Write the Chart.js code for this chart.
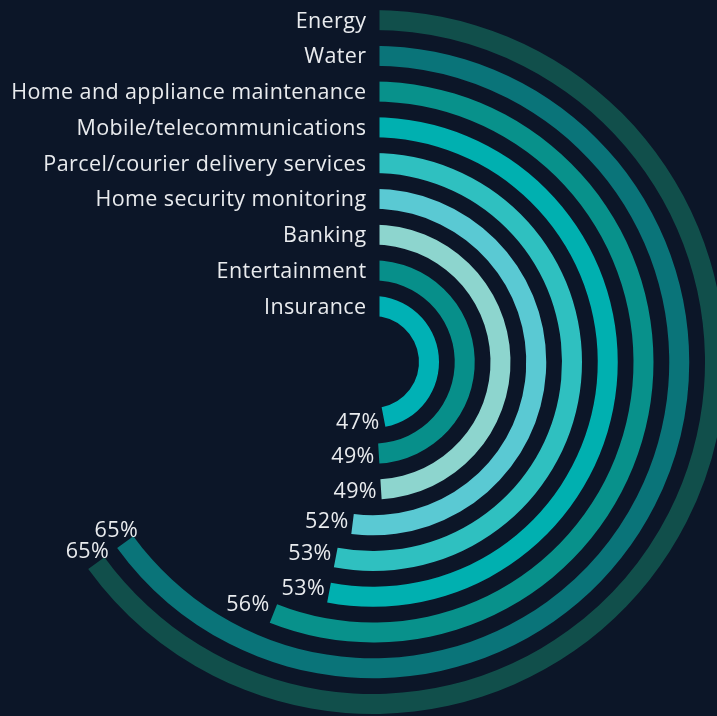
<!DOCTYPE html>
<html lang="en">
<head>
<meta charset="UTF-8">
<title>Radial bar chart</title>
<script src="https://cdn.jsdelivr.net/npm/chart.js"></script>
<style>
    html, body {
        margin: 0;
        padding: 0;
        background: #0c1628;
        overflow: hidden;
    }
    #wrap {
        width: 717px;
        height: 716px;
    }
</style>
</head>
<body>
<div id="wrap"><canvas id="chart" width="717" height="716"></canvas></div>
<script>
    // outer ring first
    const categories = [
        'Energy',
        'Water',
        'Home and appliance maintenance',
        'Mobile/telecommunications',
        'Parcel/courier delivery services',
        'Home security monitoring',
        'Banking',
        'Entertainment',
        'Insurance'
    ];
    const values = [65, 65, 56, 53, 53, 52, 49, 49, 47];
    const fullScale = 100;
    const colors = ['#114f4b', '#0a7479', '#08918b', '#00b0b0', '#2fc0c0', '#5ac9d3', '#8dd5ce', '#078f8a', '#00b1b5'];

    const RING = 20, GAP = 15.75;
    const START_SHIFT = 6.5;   // rings are cut by a vertical line just right of the centre
    const FONT = '21.5px "Open Sans", "Noto Sans", sans-serif';
    const TEXT = '#e9ebee';
    const CAP = 15;

    const datasets = [];
    categories.forEach((name, i) => {
        if (i > 0) {
            datasets.push({ data: [fullScale], backgroundColor: ['rgba(0,0,0,0)'], borderWidth: 0, weight: GAP, gap: true });
        }
        datasets.push({
            label: name,
            data: [values[i], fullScale - values[i]],
            backgroundColor: [colors[i], 'rgba(0,0,0,0)'],
            borderWidth: 0,
            weight: RING
        });
    });

    const startClip = {
        id: 'startClip',
        beforeDatasetsDraw(chart) {
            const arc = chart.getDatasetMeta(0).data[0];
            const ctx = chart.ctx;
            ctx.save();
            ctx.beginPath();
            ctx.rect(arc.x + START_SHIFT, 0, chart.width, arc.y);
            ctx.rect(0, arc.y, chart.width, chart.height);
            ctx.clip();
        },
        afterDatasetsDraw(chart) {
            chart.ctx.restore();
        }
    };

    const ringLabels = {
        id: 'ringLabels',
        afterDraw(chart) {
            const ctx = chart.ctx;
            ctx.save();
            ctx.font = FONT;
            ctx.letterSpacing = '0.4px';
            ctx.fillStyle = TEXT;
            ctx.textBaseline = 'alphabetic';
            chart.data.datasets.forEach((ds, di) => {
                if (ds.gap) return;
                const arc = chart.getDatasetMeta(di).data[0];
                const r = (arc.innerRadius + arc.outerRadius) / 2;

                // category name left of the ring start
                ctx.textAlign = 'right';
                ctx.fillText(ds.label, arc.x + START_SHIFT - 13, arc.y - r + CAP / 2);

                // value just past the ring end
                const a = arc.endAngle;
                const ex = arc.x + r * Math.cos(a);
                const ey = arc.y + r * Math.sin(a);
                const dx = -Math.sin(a), dy = Math.cos(a);
                const txt = ds.data[0] + '%';
                const hw = ctx.measureText(txt).width / 2, hh = 9;
                const d = Math.min(hw / Math.max(Math.abs(dx), 1e-6), hh / Math.max(Math.abs(dy), 1e-6)) + 4;
                ctx.textAlign = 'center';
                ctx.fillText(txt, ex + d * dx, ey + d * dy + CAP / 2);
            });
            ctx.restore();
        }
    };

    new Chart(document.getElementById('chart'), {
        type: 'doughnut',
        data: { labels: ['value', 'rest'], datasets: datasets },
        options: {
            responsive: false,
            animation: false,
            events: [],
            radius: 352,
            cutout: (46 / 352 * 100) + '%',
            layout: { padding: { left: 29, top: 8, right: 0, bottom: 0 } },
            plugins: {
                legend: { display: false },
                tooltip: { enabled: false }
            }
        },
        plugins: [startClip, ringLabels]
    });
</script>
</body>
</html>
